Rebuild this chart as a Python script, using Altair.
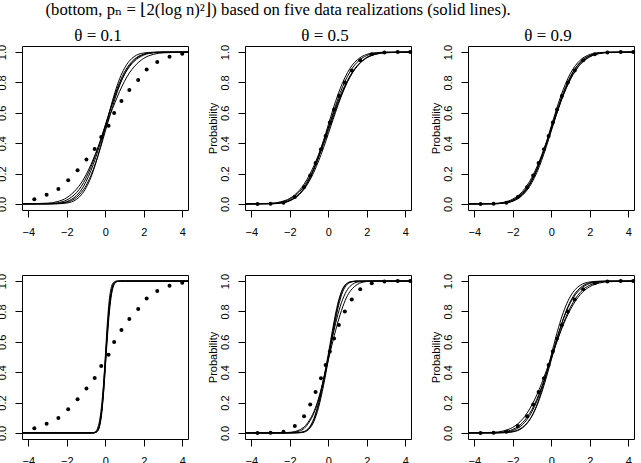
import altair as alt
import pandas as pd

# x grid shared by the smooth panels, and a finer one for the steep panel
GRID = [-4.5, -3, -2.5, -2, -1.5, -1.25, -1, -0.75, -0.5, -0.25, 0,
        0.25, 0.5, 0.75, 1, 1.25, 1.5, 2, 2.5, 3, 4.5]
GRID_STEEP = [-4.5, -1, -0.8, -0.6, -0.5, -0.4, -0.3, -0.2, -0.1, 0,
              0.1, 0.2, 0.3, 0.4, 0.5, 0.6, 0.8, 1, 4.5]

# true distribution points (dots)
HEAVY_X = [-3.69, -3.05, -2.44, -1.93, -1.44, -0.98, -0.55, -0.21, 0.17,
           0.46, 0.84, 1.25, 1.71, 2.15, 2.70, 3.34, 4.0]
HEAVY_Y = [0.03, 0.061, 0.098, 0.156, 0.222, 0.293, 0.361, 0.441, 0.515,
           0.599, 0.678, 0.75, 0.816, 0.885, 0.934, 0.969, 0.989]
NORM_X = [-3.68, -3.0, -2.33, -1.74, -1.26, -0.94, -0.66, -0.38, -0.14, 0.08,
          0.30, 0.55, 0.86, 1.22, 1.66, 2.26, 2.92, 3.61, 4.26]
NORM_Y = [0, 0.001, 0.008, 0.046, 0.11, 0.188, 0.27, 0.36, 0.447, 0.536,
          0.622, 0.71, 0.8, 0.878, 0.946, 0.986, 0.997, 1, 1]

# estimated distribution functions, five realizations per panel
TOP_01 = [
    [0, 0.005, 0.015, 0.041, 0.097, 0.138, 0.192, 0.258, 0.334, 0.413, 0.5, 0.587, 0.666, 0.742, 0.808, 0.862, 0.903, 0.959, 0.985, 0.995, 1],
    [0, 0.002, 0.007, 0.026, 0.074, 0.115, 0.171, 0.242, 0.326, 0.421, 0.52, 0.618, 0.709, 0.788, 0.853, 0.903, 0.939, 0.98, 0.995, 0.998, 1],
    [0, 0, 0.002, 0.011, 0.043, 0.075, 0.121, 0.187, 0.271, 0.369, 0.478, 0.587, 0.691, 0.782, 0.855, 0.908, 0.946, 0.985, 0.997, 1, 1],
    [0, 0, 0.001, 0.006, 0.03, 0.059, 0.106, 0.174, 0.266, 0.377, 0.5, 0.623, 0.734, 0.826, 0.894, 0.941, 0.97, 0.994, 0.999, 1, 1],
    [0, 0.001, 0.004, 0.016, 0.055, 0.092, 0.147, 0.218, 0.305, 0.405, 0.513, 0.618, 0.719, 0.802, 0.869, 0.918, 0.952, 0.986, 0.997, 1, 1],
]
TOP_05 = [
    [0, 0.001, 0.006, 0.023, 0.067, 0.106, 0.159, 0.227, 0.309, 0.401, 0.5, 0.599, 0.691, 0.773, 0.841, 0.894, 0.933, 0.977, 0.994, 0.999, 1],
    [0, 0.003, 0.01, 0.031, 0.079, 0.119, 0.17, 0.234, 0.309, 0.393, 0.482, 0.572, 0.659, 0.738, 0.806, 0.862, 0.906, 0.962, 0.987, 0.996, 1],
    [0, 0.001, 0.005, 0.02, 0.063, 0.103, 0.159, 0.23, 0.319, 0.417, 0.521, 0.625, 0.719, 0.8, 0.865, 0.915, 0.948, 0.985, 0.996, 0.999, 1],
    [0, 0.002, 0.007, 0.023, 0.064, 0.099, 0.147, 0.209, 0.284, 0.369, 0.462, 0.556, 0.648, 0.732, 0.805, 0.864, 0.908, 0.965, 0.989, 0.997, 1],
    [0, 0.004, 0.013, 0.037, 0.09, 0.132, 0.186, 0.251, 0.327, 0.412, 0.5, 0.588, 0.673, 0.749, 0.814, 0.868, 0.91, 0.963, 0.987, 0.996, 1],
]
TOP_09 = [
    [0, 0.001, 0.006, 0.023, 0.067, 0.106, 0.159, 0.227, 0.309, 0.401, 0.5, 0.599, 0.691, 0.773, 0.841, 0.894, 0.933, 0.977, 0.994, 0.999, 1],
    [0, 0.002, 0.008, 0.027, 0.073, 0.111, 0.163, 0.229, 0.307, 0.395, 0.489, 0.583, 0.673, 0.754, 0.822, 0.877, 0.919, 0.97, 0.991, 0.998, 1],
    [0, 0.001, 0.005, 0.019, 0.061, 0.1, 0.154, 0.224, 0.31, 0.408, 0.513, 0.616, 0.712, 0.794, 0.861, 0.911, 0.946, 0.984, 0.996, 0.999, 1],
    [0, 0.003, 0.01, 0.032, 0.082, 0.124, 0.177, 0.244, 0.322, 0.409, 0.5, 0.591, 0.678, 0.756, 0.823, 0.876, 0.918, 0.968, 0.99, 0.997, 1],
    [0, 0.001, 0.005, 0.018, 0.057, 0.092, 0.142, 0.207, 0.287, 0.38, 0.48, 0.581, 0.677, 0.762, 0.834, 0.89, 0.931, 0.977, 0.994, 0.998, 1],
]
BOT_01 = [
    [0, 0, 0, 0.001, 0.005, 0.018, 0.055, 0.136, 0.274, 0.46, 0.655, 0.816, 0.919, 0.971, 0.992, 0.998, 1, 1, 1],
    [0, 0, 0, 0, 0.003, 0.013, 0.048, 0.133, 0.289, 0.5, 0.711, 0.867, 0.952, 0.987, 0.997, 1, 1, 1, 1],
    [0, 0, 0, 0.001, 0.005, 0.018, 0.053, 0.127, 0.252, 0.425, 0.613, 0.777, 0.892, 0.957, 0.986, 0.996, 1, 1, 1],
    [0, 0, 0, 0.003, 0.01, 0.031, 0.079, 0.17, 0.309, 0.482, 0.659, 0.806, 0.906, 0.962, 0.987, 0.996, 1, 1, 1],
    [0, 0, 0, 0.001, 0.003, 0.012, 0.041, 0.113, 0.247, 0.437, 0.644, 0.815, 0.922, 0.974, 0.993, 0.999, 1, 1, 1],
]
BOT_05 = [
    [0, 0, 0, 0, 0.002, 0.008, 0.03, 0.085, 0.19, 0.33, 0.5, 0.68, 0.84, 0.945, 0.985, 0.997, 1, 1, 1, 1, 1],
    [0, 0, 0, 0, 0.003, 0.01, 0.035, 0.095, 0.2, 0.35, 0.52, 0.7, 0.855, 0.95, 0.988, 0.998, 1, 1, 1, 1, 1],
    [0, 0, 0, 0, 0.001, 0.006, 0.025, 0.075, 0.17, 0.31, 0.48, 0.66, 0.82, 0.93, 0.98, 0.995, 0.999, 1, 1, 1, 1],
    [0, 0, 0, 0.002, 0.012, 0.03, 0.07, 0.13, 0.22, 0.35, 0.5, 0.65, 0.78, 0.88, 0.945, 0.978, 0.993, 0.999, 1, 1, 1],
    [0, 0, 0.001, 0.004, 0.02, 0.04, 0.08, 0.14, 0.23, 0.35, 0.48, 0.61, 0.73, 0.83, 0.905, 0.95, 0.977, 0.997, 1, 1, 1],
]
BOT_09 = [
    [0, 0.004, 0.013, 0.037, 0.09, 0.132, 0.186, 0.251, 0.327, 0.412, 0.5, 0.588, 0.673, 0.749, 0.814, 0.868, 0.91, 0.963, 0.987, 0.996, 1],
    [0, 0.002, 0.007, 0.023, 0.067, 0.105, 0.156, 0.222, 0.302, 0.392, 0.488, 0.585, 0.677, 0.76, 0.829, 0.884, 0.925, 0.973, 0.992, 0.998, 1],
    [0, 0.001, 0.004, 0.016, 0.054, 0.09, 0.141, 0.21, 0.295, 0.394, 0.5, 0.606, 0.705, 0.79, 0.859, 0.91, 0.946, 0.984, 0.996, 0.999, 1],
    [0, 0, 0.002, 0.009, 0.037, 0.067, 0.113, 0.179, 0.265, 0.368, 0.481, 0.596, 0.704, 0.796, 0.868, 0.921, 0.955, 0.989, 0.998, 1, 1],
    [0, 0, 0.001, 0.007, 0.033, 0.064, 0.113, 0.184, 0.278, 0.392, 0.515, 0.637, 0.746, 0.835, 0.901, 0.945, 0.972, 0.994, 0.999, 1, 1],
]

X_TICKS = [-4, -2, 0, 2, 4]
Y_TICKS = [0, 0.2, 0.4, 0.6, 0.8, 1.0]

SERIF = "'Liberation Serif', 'Times New Roman', 'DejaVu Serif', serif"
SANS = "'Liberation Sans', Arial, Helvetica, sans-serif"

x_enc = alt.X(
    "x:Q",
    scale=alt.Scale(domain=[-4.33, 4.3], nice=False, zero=False),
    axis=alt.Axis(values=X_TICKS, format="d", title=None, grid=False,
                  domain=False, tickSize=7, tickColor="black",
                  labelPadding=9, labelFlush=False),
)
y_enc = alt.Y(
    "y:Q",
    scale=alt.Scale(domain=[-0.04, 1.04], nice=False, zero=False),
    axis=alt.Axis(values=Y_TICKS, format=".1f", title="Probability",
                  grid=False, domain=False, tickSize=7, tickColor="black",
                  labelAngle=270, labelAlign="center", labelBaseline="bottom",
                  labelPadding=8, labelFlush=False, titlePadding=1),
)


def panel(grid, curves, dot_x, dot_y, heading=None, shift=-3):
    rows = [{"x": g, "y": v, "run": i}
            for i, curve in enumerate(curves) for g, v in zip(grid, curve)]
    lines = alt.Chart(pd.DataFrame(rows)).mark_line(
        color="black", strokeWidth=1, interpolate="monotone", clip=True
    ).encode(x=x_enc, y=y_enc, detail="run:N")
    dots = alt.Chart(pd.DataFrame({"x": dot_x, "y": dot_y})).mark_circle(
        color="black", size=16, opacity=1
    ).encode(x=x_enc, y=y_enc)
    chart = alt.layer(lines, dots).properties(width=166, height=164)
    if heading:
        chart = chart.properties(title=alt.TitleParams(
            heading, font=SERIF, fontSize=17, fontWeight="normal",
            color="black", offset=-1, dx=shift))
    return chart


panels = [
    panel(GRID, TOP_01, HEAVY_X, HEAVY_Y, "θ = 0.1", shift=-7),
    panel(GRID, TOP_05, NORM_X, NORM_Y, "θ = 0.5"),
    panel(GRID, TOP_09, NORM_X, NORM_Y, "θ = 0.9"),
    panel(GRID_STEEP, BOT_01, HEAVY_X, HEAVY_Y),
    panel(GRID, BOT_05, NORM_X, NORM_Y),
    panel(GRID, BOT_09, NORM_X, NORM_Y),
]

chart = alt.concat(
    *panels, columns=3, spacing={"row": 65, "column": 57}, bounds="flush"
).properties(
    title=alt.TitleParams(
        "(bottom, pₙ = ⌊2(log n)²⌋) based on five data realizations (solid lines).",
        font=SERIF, fontSize=16.7, fontWeight="normal",
        color="black", anchor="start", dx=62, offset=8),
    padding={"left": -17, "top": 2, "right": 0, "bottom": -3},
).configure(
    background="white"
).configure_view(
    stroke="black", strokeWidth=1
).configure_axis(
    labelFont=SANS, labelFontSize=11, labelColor="black",
    titleFont=SANS, titleFontSize=11, titleFontWeight="normal",
    titleColor="black", tickWidth=1
)

chart.save("out.html", embed_options={"renderer": "svg", "actions": False})
